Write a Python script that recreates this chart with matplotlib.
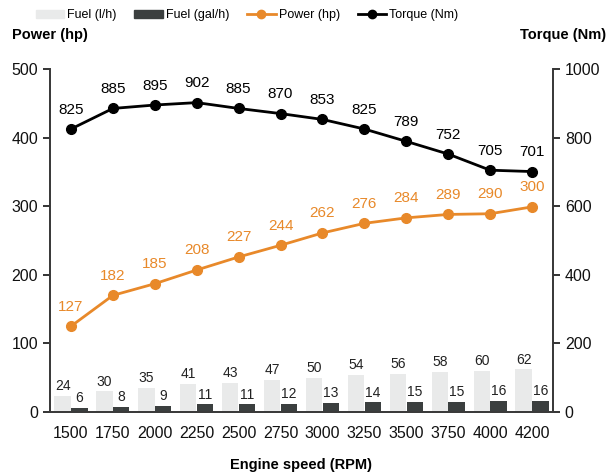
import matplotlib
matplotlib.use("Agg")
import matplotlib.pyplot as plt
from matplotlib.lines import Line2D
from matplotlib.patches import Patch

plt.rcParams['font.family'] = ['Liberation Sans', 'DejaVu Sans']

rpm = ["1500", "1750", "2000", "2250", "2500", "2750", "3000", "3250", "3500", "3750", "4000", "4200"]
fuel_lh = [24, 30, 35, 41, 43, 47, 50, 54, 56, 58, 60, 62]
fuel_galh = [6, 8, 9, 11, 11, 12, 13, 14, 15, 15, 16, 16]
# point positions as drawn, and the labels shown on them
power = [125, 170, 187, 207, 226, 243, 261, 275, 283, 288, 289, 299]
power_labels = ["127", "182", "185", "208", "227", "244", "262", "276", "284", "289", "290", "300"]
torque = [825, 885, 895, 902, 885, 870, 853, 825, 789, 752, 705, 701]

light = "#e9eaea"
dark = "#3b3f3f"
orange = "#e8892a"
black = "#000000"

fig = plt.figure(figsize=(6.15, 4.73), dpi=100)
ax = fig.add_axes([50 / 615, 61 / 473, 503 / 615, 343 / 473])
ax2 = ax.twinx()

x = list(range(len(rpm)))
w = 0.39
xl = [i - 0.2 for i in x]
xd = [i + 0.2 for i in x]
ax.bar(xl, fuel_lh, width=w, color=light, zorder=2)
ax.bar(xd, fuel_galh, width=w, color=dark, zorder=2)
for xi, v in zip(xl, fuel_lh):
    ax.annotate(str(v), (xi, v), xytext=(0, 2), textcoords="offset points",
                ha="center", va="bottom", fontsize=10, color="#222222")
for xi, v in zip(xd, fuel_galh):
    ax.annotate(str(v), (xi, v), xytext=(0, 2), textcoords="offset points",
                ha="center", va="bottom", fontsize=10, color="#222222")

ax.plot(x, power, color=orange, lw=2, marker="o", ms=7, zorder=4)
for xi, v, lab in zip(x, power, power_labels):
    ax.annotate(lab, (xi, v), xytext=(0, 9), textcoords="offset points",
                ha="center", va="bottom", fontsize=11, color=orange)

ax2.plot(x, torque, color=black, lw=2, marker="o", ms=7, zorder=4)
for xi, v in zip(x, torque):
    ax2.annotate(str(v), (xi, v), xytext=(0, 9), textcoords="offset points",
                 ha="center", va="bottom", fontsize=11, color=black)

ax.set_xlim(-0.5, len(rpm) - 0.5)
ax.set_ylim(0, 500)
ax2.set_ylim(0, 1000)
ax.set_yticks([0, 100, 200, 300, 400, 500])
ax2.set_yticks([0, 200, 400, 600, 800, 1000])
ax.set_xticks(x)
ax.set_xticklabels(rpm)
ax.tick_params(axis="x", length=0, labelsize=11.5, pad=10, colors="#111111")
ax.tick_params(axis="y", length=5, width=1.2, labelsize=11.5, colors="#111111", direction="out")
ax2.tick_params(axis="y", length=5, width=1.2, labelsize=11.5, colors="#111111", direction="out")
for a in (ax, ax2):
    a.spines["top"].set_visible(False)
    for s in ("left", "right", "bottom"):
        a.spines[s].set_color("#3a3a3a")
        a.spines[s].set_linewidth(1.3)

fig.text(12 / 615, 1 - 35 / 473, "Power (hp)", fontsize=10.5, fontweight="bold", va="center", ha="left")
fig.text(606 / 615, 1 - 35 / 473, "Torque (Nm)", fontsize=10.5, fontweight="bold", va="center", ha="right")
fig.text(301 / 615, 1 - 465 / 473, "Engine speed (RPM)", fontsize=10.5, fontweight="bold", va="center", ha="center")

handles = [
    Patch(color=light, label="Fuel (l/h)"),
    Patch(color=dark, label="Fuel (gal/h)"),
    Line2D([0], [0], color=orange, lw=2, marker="o", ms=6, label="Power (hp)"),
    Line2D([0], [0], color=black, lw=2, marker="o", ms=6, label="Torque (Nm)"),
]
fig.legend(handles=handles, loc="center", bbox_to_anchor=(247 / 615, 1 - 15 / 473), ncol=4,
           frameon=False, fontsize=9, handlelength=2.3, handletextpad=0.25, columnspacing=1.4,
           handleheight=0.6, borderpad=0)

fig.savefig("out.png", dpi=100)
